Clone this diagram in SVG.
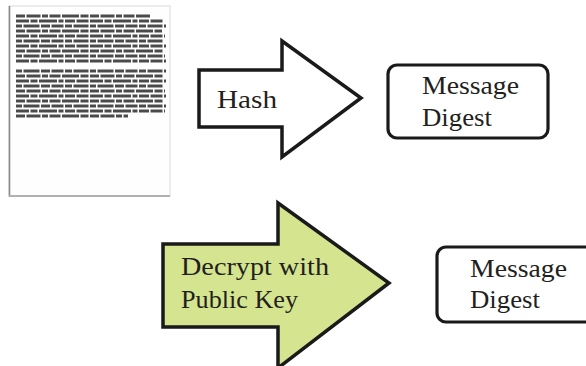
<svg xmlns="http://www.w3.org/2000/svg" width="586" height="366" viewBox="0 0 586 366">
<defs>
<filter id="blur" x="-5%" y="-5%" width="110%" height="110%"><feGaussianBlur stdDeviation="0.7"/></filter>
</defs>
<style>
.lbl{font-family:"Liberation Serif","DejaVu Serif",serif;font-size:25px;fill:#231f20}
.arrow{stroke:#1a1a1a;stroke-width:3.5;stroke-linejoin:miter}
.box{fill:#fff;stroke:#1a1a1a;stroke-width:3.2}
.tl line{stroke:#2a2a2a;stroke-width:3.2;stroke-opacity:0.85}
.d1{stroke-dasharray:9 1.5 14 1.5 6 1.5 11 1.5 17 1.5 8 1.5}
.d2{stroke-dasharray:13 1.5 7 1.5 18 1.5 5 1.5 10 1.5 12 1.5}
.d3{stroke-dasharray:6 1.5 16 1.5 9 1.5 12 1.5 7 1.5 15 1.5}
</style>
<rect width="586" height="366" fill="#fff"/>
<g id="document">
<rect x="9" y="6" width="161" height="190" fill="#fefefe" stroke="#e0e0e0" stroke-width="1.2"/>
<line x1="9.5" y1="6" x2="9.5" y2="197" stroke="#8a8a8a" stroke-width="1.6"/>
<line x1="9" y1="196" x2="170" y2="196" stroke="#b0b0b0" stroke-width="1.8"/>
<g class="tl" filter="url(#blur)">
<line class="d1" x1="16" y1="16" x2="150" y2="16"/>
<line class="d2" x1="16" y1="21" x2="164" y2="21"/>
<line class="d3" x1="16" y1="26" x2="166" y2="26"/>
<line class="d1" x1="16" y1="31" x2="162" y2="31"/>
<line class="d2" x1="16" y1="36" x2="165" y2="36"/>
<line class="d3" x1="16" y1="41" x2="164" y2="41"/>
<line class="d2" x1="16" y1="46" x2="166" y2="46"/>
<line class="d1" x1="16" y1="51" x2="163" y2="51"/>
<line class="d3" x1="16" y1="56" x2="165" y2="56"/>
<line class="d2" x1="16" y1="61" x2="166" y2="61"/>
<line class="d3" x1="16" y1="71" x2="166" y2="71"/>
<line class="d1" x1="16" y1="76" x2="164" y2="76"/>
<line class="d2" x1="16" y1="81" x2="166" y2="81"/>
<line class="d3" x1="16" y1="86" x2="163" y2="86"/>
<line class="d1" x1="16" y1="91" x2="165" y2="91"/>
<line class="d2" x1="16" y1="96" x2="166" y2="96"/>
<line class="d1" x1="16" y1="101" x2="164" y2="101"/>
<line class="d3" x1="16" y1="106" x2="166" y2="106"/>
<line class="d2" x1="16" y1="111" x2="165" y2="111"/>
<line class="d1" x1="16" y1="116" x2="128" y2="116"/>
</g>
</g>
<g id="connectors">
<g id="hash">
<polygon class="arrow" fill="#fff" points="199,70 282,70 282,41 361,98 282,157 282,127 199,127"/>
<text class="lbl" x="217" y="108" textLength="60" lengthAdjust="spacingAndGlyphs">Hash</text>
</g>
<g id="decrypt">
<polygon class="arrow" fill="#d5e48e" points="163,244 278,244 278,203 389,283 278,368 278,327 163,327"/>
<text class="lbl" x="181" y="275" textLength="148" lengthAdjust="spacingAndGlyphs">Decrypt with</text>
<text class="lbl" x="181" y="308" textLength="117" lengthAdjust="spacingAndGlyphs">Public Key</text>
</g>
</g>
<g id="digest1">
<rect class="box" x="388" y="65" width="160" height="73" rx="9"/>
<text class="lbl" x="422" y="94" textLength="97" lengthAdjust="spacingAndGlyphs">Message</text>
<text class="lbl" x="422" y="126" textLength="70" lengthAdjust="spacingAndGlyphs">Digest</text>
</g>
<g id="digest2">
<rect class="box" x="437" y="247" width="170" height="75" rx="9"/>
<text class="lbl" x="470" y="277" textLength="97" lengthAdjust="spacingAndGlyphs">Message</text>
<text class="lbl" x="470" y="308" textLength="70" lengthAdjust="spacingAndGlyphs">Digest</text>
</g>
</svg>
